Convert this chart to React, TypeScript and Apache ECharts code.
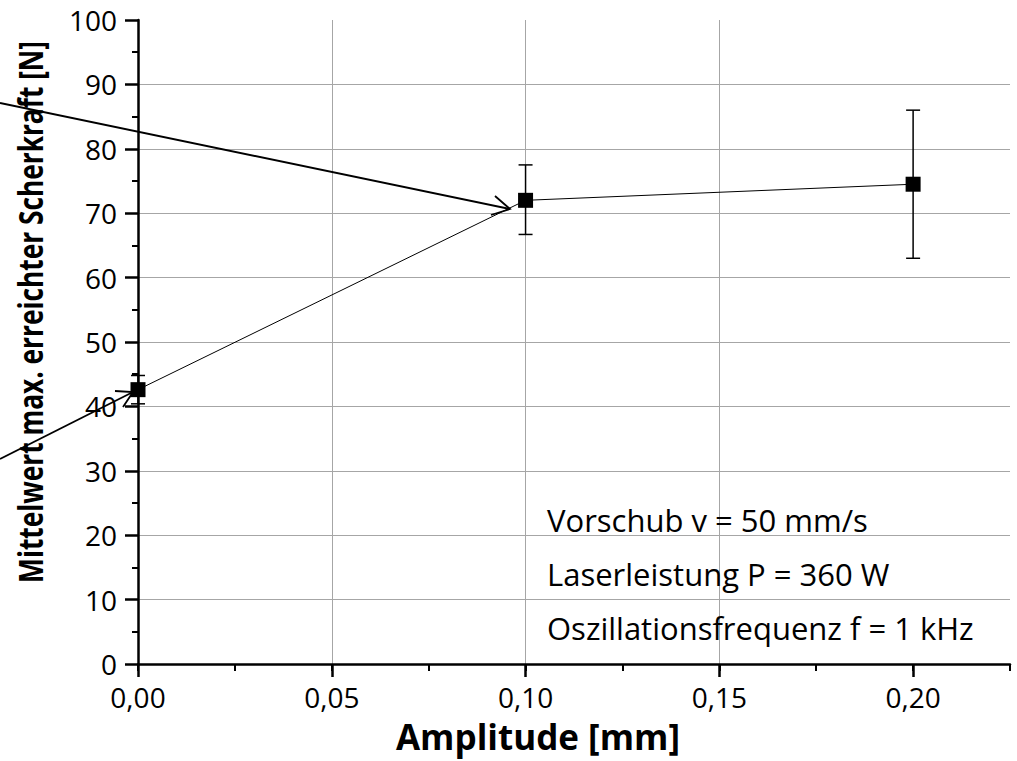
import React, { useEffect, useRef } from "react";
import * as echarts from "echarts";

// ---- data ----
const amplitudes = [0, 0.1, 0.2];
const meanForce = [42.6, 72.0, 74.5];
const errLow = [40.4, 66.7, 63.0];
const errHigh = [44.8, 77.5, 86.0];
const xTickValues = [0, 0.05, 0.1, 0.15, 0.2];
const annotationLines = [
  "Vorschub v = 50 mm/s",
  "Laserleistung P = 360 W",
  "Oszillationsfrequenz f = 1 kHz",
];
const yAxisTitle = "Mittelwert max. erreichter Scherkraft [N]";
const xAxisTitle = "Amplitude [mm]";

const FONT = "'Open Sans', 'Noto Sans', sans-serif";

export default function App() {
  const ref = useRef<HTMLDivElement>(null);
  useEffect(() => {
    if (!ref.current) return;
    const chart = echarts.init(ref.current, null, { renderer: "svg" });
    const gridColor = "#a6a6a6";
    const fmtX = (v: number) => v.toFixed(2).replace(".", ",");

    const option: any = {
      animation: false,
      backgroundColor: "#fff",
      textStyle: { fontFamily: FONT },
      grid: { left: 138, right: 7, top: 20, bottom: 97, containLabel: false },
      xAxis: [
        {
          type: "value",
          min: 0,
          max: 0.225,
          interval: 0.025,
          position: "bottom",
          axisLine: { show: true, onZero: false, lineStyle: { color: "#000", width: 2.5 } },
          axisTick: { show: true, length: 7, lineStyle: { color: "#000", width: 2 } },
          axisLabel: { show: false },
          splitLine: { show: false },
        },
        {
          type: "value",
          min: 0,
          max: 0.225,
          interval: 0.05,
          position: "bottom",
          axisLine: { show: false, onZero: false },
          axisTick: {
            show: true,
            length: 13,
            customValues: xTickValues,
            lineStyle: { color: "#000", width: 2.5 },
          },
          axisLabel: {
            show: true,
            customValues: xTickValues,
            formatter: fmtX,
            fontSize: 28,
            color: "#000",
            margin: 19,
            fontFamily: FONT,
          },
          splitLine: {
            show: true,
            showMinLine: false,
            showMaxLine: false,
            lineStyle: { color: gridColor, width: 1 },
          },
        },
      ],
      yAxis: {
        type: "value",
        min: 0,
        max: 100,
        interval: 10,
        axisLine: { show: true, onZero: false, lineStyle: { color: "#000", width: 2.5 } },
        axisTick: { show: true, length: 13, lineStyle: { color: "#000", width: 2.5 } },
        minorTick: { show: true, splitNumber: 2, length: 6, lineStyle: { color: "#000", width: 2 } },
        axisLabel: { fontSize: 28, color: "#000", margin: 21, fontFamily: FONT },
        splitLine: {
          show: true,
          showMinLine: false,
          showMaxLine: false,
          lineStyle: { color: gridColor, width: 1 },
        },
      },
      series: [
        {
          type: "custom",
          xAxisIndex: 0,
          yAxisIndex: 0,
          z: 2,
          encode: { x: 0, y: [1, 2] },
          data: amplitudes.map((x, i) => [x, errLow[i], errHigh[i]]),
          renderItem: (params: any, api: any) => {
            const x = api.value(0);
            const top = api.coord([x, api.value(2)]);
            const bot = api.coord([x, api.value(1)]);
            const hw = 7;
            const style = { stroke: "#000", lineWidth: 1.5 };
            return {
              type: "group",
              children: [
                { type: "line", shape: { x1: top[0], y1: top[1], x2: bot[0], y2: bot[1] }, style },
                { type: "line", shape: { x1: top[0] - hw, y1: top[1], x2: top[0] + hw, y2: top[1] }, style },
                { type: "line", shape: { x1: bot[0] - hw, y1: bot[1], x2: bot[0] + hw, y2: bot[1] }, style },
              ],
            };
          },
        },
        {
          type: "line",
          xAxisIndex: 0,
          yAxisIndex: 0,
          z: 3,
          data: amplitudes.map((x, i) => [x, meanForce[i]]),
          symbol: "rect",
          symbolSize: 15,
          itemStyle: { color: "#000" },
          lineStyle: { color: "#000", width: 1 },
        },
      ],
      graphic: [
        {
          type: "text",
          x: 30,
          y: 312,
          rotation: Math.PI / 2,
          scaleX: 0.773,
          z: 10,
          style: {
            text: yAxisTitle,
            fontFamily: FONT,
            fontSize: 34,
            fontWeight: "bold",
            fill: "#000",
            align: "center",
            verticalAlign: "middle",
            lineHeight: 34,
          },
        },
        {
          type: "text",
          x: 538,
          y: 736,
          z: 10,
          style: {
            text: xAxisTitle,
            fontFamily: FONT,
            fontSize: 35,
            fontWeight: "bold",
            fill: "#000",
            align: "center",
            verticalAlign: "middle",
            lineHeight: 35,
          },
        },
        ...annotationLines.map((t, i) => ({
          type: "text",
          x: 547,
          y: [520, 574, 628][i],
          z: 10,
          style: {
            text: t,
            fontFamily: FONT,
            fontSize: 31,
            fill: "#000",
            align: "left",
            verticalAlign: "middle",
          },
        })),
        {
          type: "polyline",
          z: 20,
          shape: { points: [[0, 103], [510, 209]] },
          style: { stroke: "#000", lineWidth: 1.8, fill: null },
        },
        {
          type: "polyline",
          z: 20,
          shape: { points: [[495, 196], [510, 209], [491, 215]] },
          style: { stroke: "#000", lineWidth: 1.8, fill: null },
        },
        {
          type: "polyline",
          z: 20,
          shape: { points: [[0, 459], [133, 392]] },
          style: { stroke: "#000", lineWidth: 1.8, fill: null },
        },
        {
          type: "polyline",
          z: 20,
          shape: { points: [[115, 391], [133, 392], [123, 407]] },
          style: { stroke: "#000", lineWidth: 1.8, fill: null },
        },
      ],
    };
    chart.setOption(option);
    return () => chart.dispose();
  }, []);
  return (
    <div
      ref={ref}
      style={{ position: "fixed", left: 0, top: 0, width: 1017, height: 761, background: "#fff" }}
    />
  );
}
